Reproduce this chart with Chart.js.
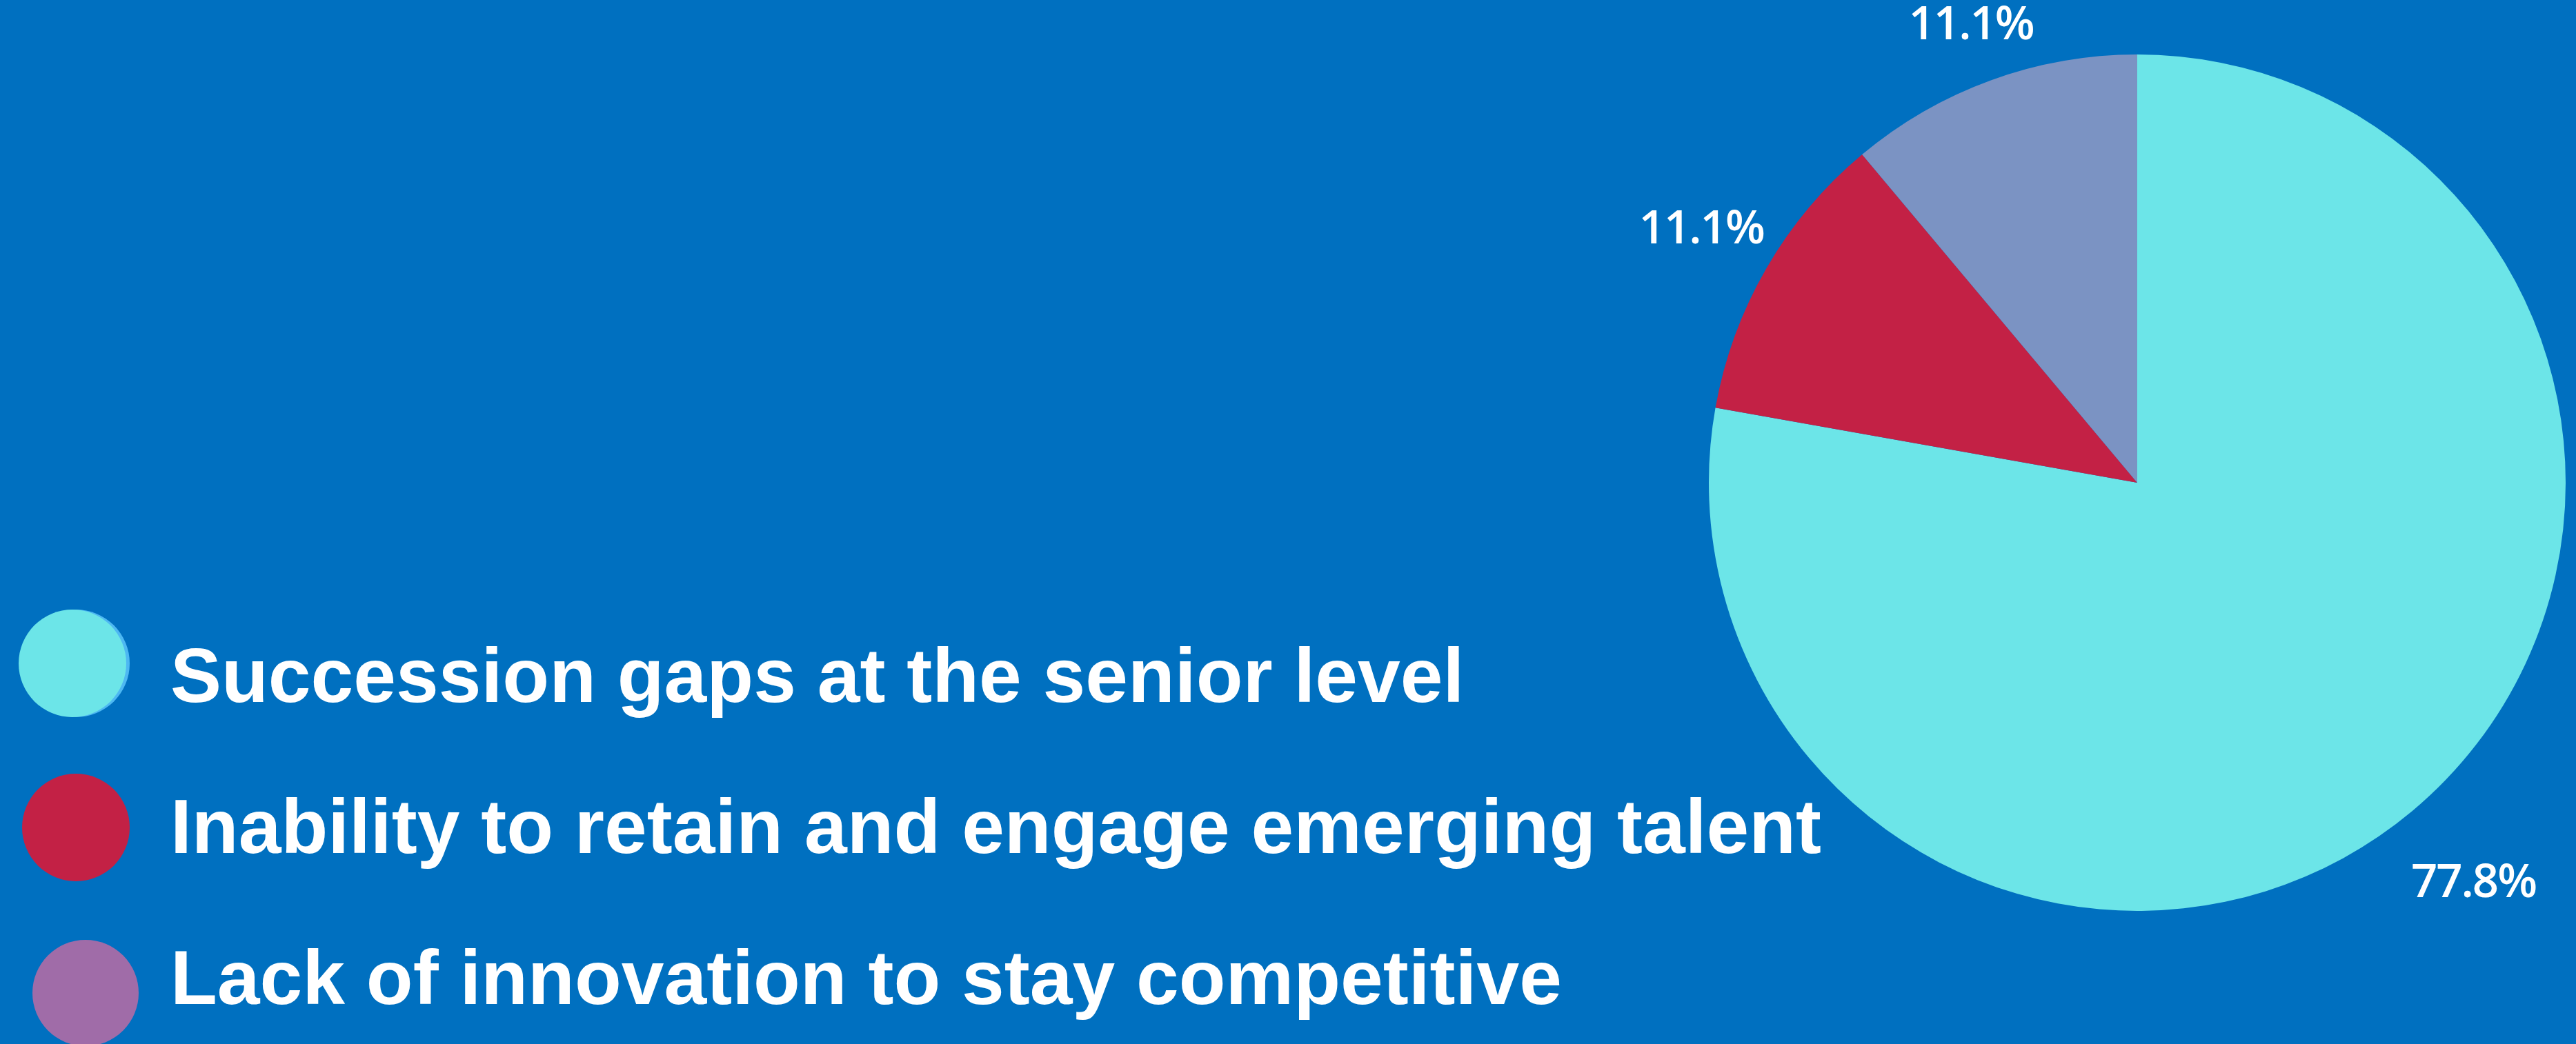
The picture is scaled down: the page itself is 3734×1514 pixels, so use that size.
<!DOCTYPE html>
<html>
<head>
<meta charset="utf-8">
<style>
  html, body { margin: 0; padding: 0; background: #0070C0; }
  canvas { display: block; }
</style>
<script src="https://cdn.jsdelivr.net/npm/chart.js@4/dist/chart.umd.min.js"></script>
</head>
<body>
<canvas id="pie" width="3734" height="1514"></canvas>
<script>
// Categories and shares (percent)
const categories = [
  'Succession gaps at the senior level',
  'Inability to retain and engage emerging talent',
  'Lack of innovation to stay competitive'
];
const shares = [77.8, 11.1, 11.1];

// Slice colours and legend marker colours
const sliceColors = ['#6CE5E8', '#C32145', '#7B93C3'];
const legendColors = ['#6CE5E8', '#C32145', '#A06CA8'];

// Distance of each percentage label beyond the rim
const labelGaps = [138, 109, 84];

// Legend row styling
const legendStyle = {
  font: 'bold 111px "Liberation Sans", Arial, sans-serif',
  textX: 247,
  baselines: [1018, 1237, 1456],
  markers: [
    { x: 105, y: 962, r: 78, edge: '#4DB8F2' },
    { x: 110, y: 1200, r: 78 },
    { x: 124, y: 1440, r: 77 }
  ]
};

// Percentage labels placed outside each arc
const outsideLabels = {
  id: 'outsideLabels',
  afterDatasetsDraw(chart) {
    const ctx = chart.ctx;
    const meta = chart.getDatasetMeta(0);
    const values = chart.data.datasets[0].data;
    ctx.save();
    ctx.fillStyle = '#FFFFFF';
    ctx.font = '600 67px "Open Sans", sans-serif';
    if ('letterSpacing' in ctx) ctx.letterSpacing = '-2px';
    ctx.textAlign = 'center';
    ctx.textBaseline = 'middle';
    meta.data.forEach((arc, i) => {
      const p = arc.getProps(['x', 'y', 'startAngle', 'endAngle', 'outerRadius'], true);
      const mid = (p.startAngle + p.endAngle) / 2;
      const d = p.outerRadius + labelGaps[i];
      ctx.fillText(values[i].toFixed(1) + '%', p.x + Math.cos(mid) * d, p.y + Math.sin(mid) * d);
    });
    ctx.restore();
  }
};

// Large legend in the lower-left corner
const bigLegend = {
  id: 'bigLegend',
  afterDraw(chart) {
    const ctx = chart.ctx;
    ctx.save();
    chart.data.labels.forEach((label, i) => {
      const m = legendStyle.markers[i];
      if (m.edge) {
        ctx.beginPath();
        ctx.arc(m.x + 5, m.y, m.r, 0, Math.PI * 2);
        ctx.fillStyle = m.edge;
        ctx.fill();
      }
      ctx.beginPath();
      ctx.arc(m.x, m.y, m.r, 0, Math.PI * 2);
      ctx.fillStyle = legendColors[i];
      ctx.fill();
      ctx.font = legendStyle.font;
      ctx.fillStyle = '#FFFFFF';
      ctx.textAlign = 'left';
      ctx.textBaseline = 'alphabetic';
      ctx.fillText(label, legendStyle.textX, legendStyle.baselines[i]);
    });
    ctx.restore();
  }
};

new Chart(document.getElementById('pie'), {
  type: 'pie',
  data: {
    labels: categories,
    datasets: [{
      data: shares,
      backgroundColor: sliceColors,
      borderWidth: 0
    }]
  },
  options: {
    responsive: false,
    animation: false,
    layout: { padding: { left: 2477, right: 15, top: 79, bottom: 193 } },
    plugins: {
      legend: { display: false },
      tooltip: { enabled: false }
    }
  },
  plugins: [outsideLabels, bigLegend]
});
</script>
</body>
</html>
